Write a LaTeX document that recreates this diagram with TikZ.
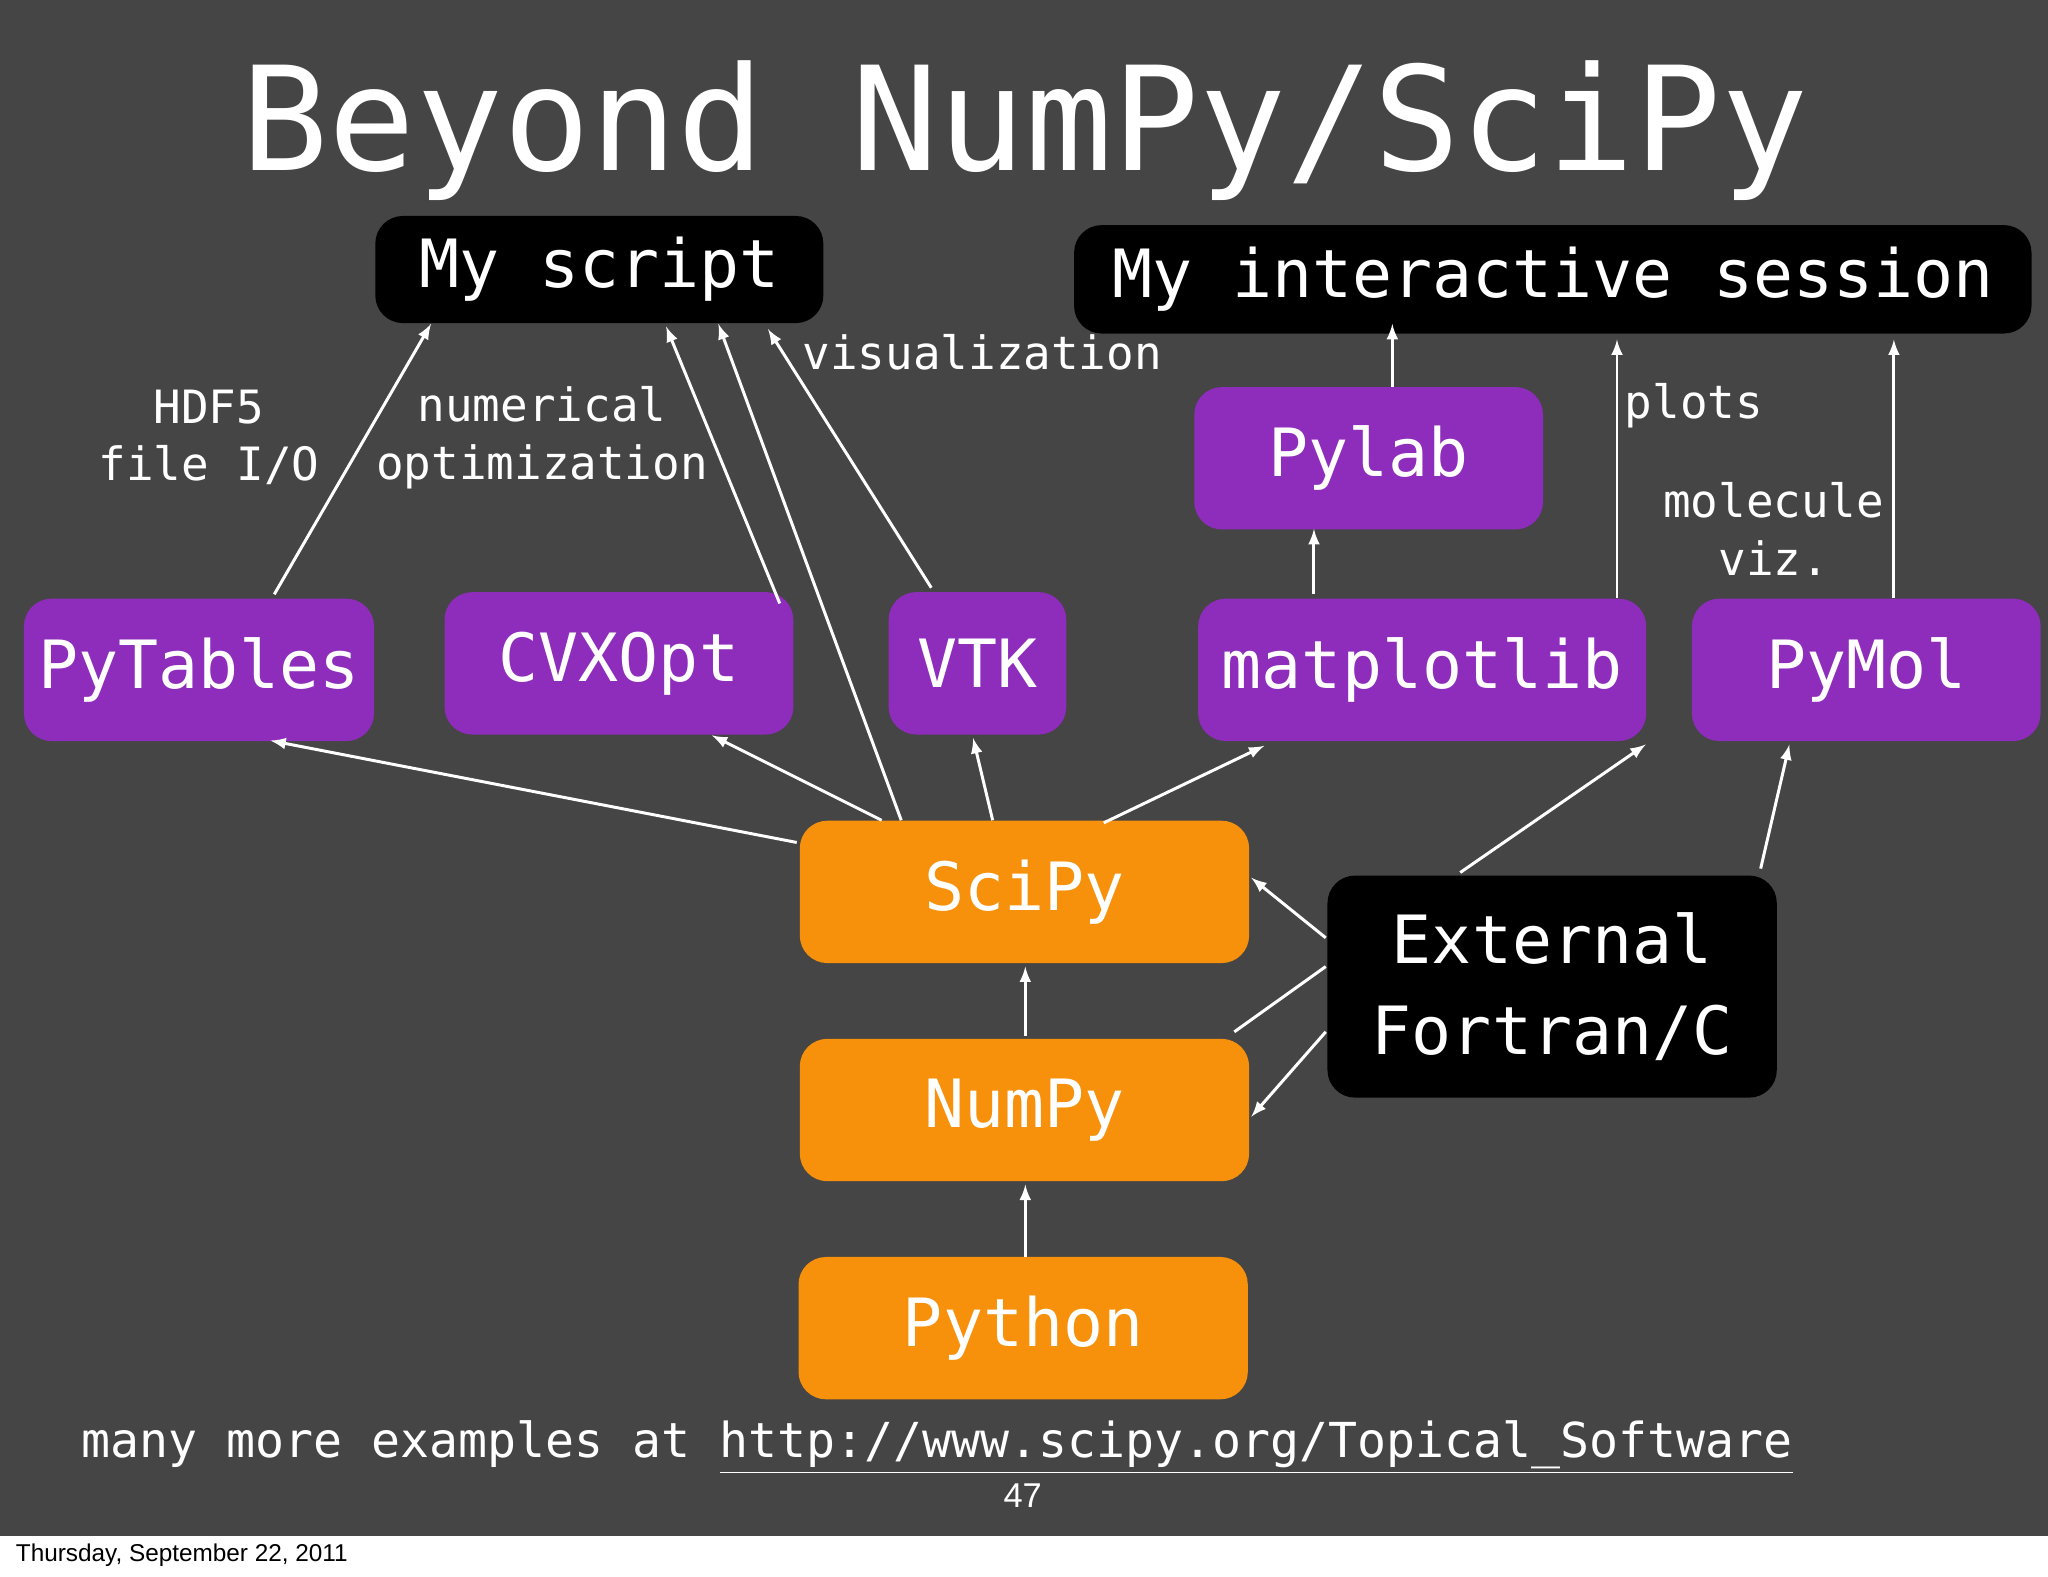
\documentclass[tikz,border=0pt]{standalone}
\usepackage{fontspec}
\setmainfont{DejaVu Sans Mono}
\newfontfamily\sansf{Liberation Sans}
\definecolor{pu}{HTML}{8E2CBC}
\definecolor{og}{HTML}{F7900A}
\begin{document}
\begin{tikzpicture}[x=0.02cm,y=-0.02cm,
  box/.style={rounded corners=12pt,text=white,font=\fontsize{29}{34}\selectfont,align=center,inner sep=0pt,anchor=north west},
  blk/.style={box,fill=black},
  pur/.style={box,fill=pu},
  org/.style={box,fill=og},
  arr/.style={draw=white,line width=1.3pt,-latex},
  lab/.style={text=white,font=\fontsize{20}{25}\selectfont,align=center}]
\useasboundingbox (0,0) rectangle (1568,1207);
\fill[white] (0,0) rectangle (1568,1207);
\fill[black!73] (0,0) rectangle (1568,1176);
\node[text=white,font=\fontsize{63}{70}\selectfont] (title) at (785,100) {Beyond NumPy/SciPy};
\node[blk,minimum width=343*0.02cm,minimum height=82*0.02cm] (ms) at (287,165) {My script};
\node[blk,minimum width=733*0.02cm,minimum height=83*0.02cm] (is) at (822,172) {My interactive session};
\node[pur,minimum width=267*0.02cm,minimum height=109*0.02cm] (pl) at (914,296) {Pylab};
\node[pur,minimum width=268*0.02cm,minimum height=109*0.02cm] (pt) at (18,458) {PyTables};
\node[pur,minimum width=267*0.02cm,minimum height=109*0.02cm] (cv) at (340,453) {CVXOpt};
\node[pur,minimum width=136*0.02cm,minimum height=109*0.02cm] (vtk) at (680,453) {VTK};
\node[pur,minimum width=343*0.02cm,minimum height=109*0.02cm] (mpl) at (917,458) {matplotlib};
\node[pur,minimum width=267*0.02cm,minimum height=109*0.02cm] (pm) at (1295,458) {PyMol};
\node[org,minimum width=344*0.02cm,minimum height=109*0.02cm] (sp) at (612,628) {SciPy};
\node[org,minimum width=344*0.02cm,minimum height=109*0.02cm] (np) at (612,795) {NumPy};
\node[org,minimum width=344*0.02cm,minimum height=109*0.02cm] (py) at (611,962) {Python};
\node[blk,minimum width=344*0.02cm,minimum height=170*0.02cm,font=\fontsize{29}{40}\selectfont] (ext) at (1016,670) {External\\Fortran/C};
\coordinate (a1) at (210,455); \coordinate (b1) at (330,248);
\coordinate (a2) at (597,462); \coordinate (b2) at (510,250);
\coordinate (a3) at (690,628); \coordinate (b3) at (550,248);
\coordinate (a4) at (713,450); \coordinate (b4) at (588,252);
\coordinate (a5) at (610,645); \coordinate (b5) at (207,567);
\coordinate (a6) at (675,628); \coordinate (b6) at (545,563);
\coordinate (a7) at (760,628); \coordinate (b7) at (745,565);
\coordinate (a8) at (845,630); \coordinate (b8) at (968,571);
\coordinate (a9) at (1006,455); \coordinate (b9) at (1006,405);
\coordinate (a10) at (1066,296); \coordinate (b10) at (1066,248);
\coordinate (a11) at (1238,458); \coordinate (b11) at (1238,260);
\coordinate (a12) at (1450,458); \coordinate (b12) at (1450,260);
\coordinate (a13) at (1118,668); \coordinate (b13) at (1260,570);
\coordinate (a14) at (1348,665); \coordinate (b14) at (1370,570);
\coordinate (a15) at (1015,718); \coordinate (b15) at (958,672);
\coordinate (a16) at (1015,740); \coordinate (b16) at (945,790);
\coordinate (a17) at (1015,790); \coordinate (b17) at (958,855);
\coordinate (a18) at (785,793); \coordinate (b18) at (785,740);
\coordinate (a19) at (785,962); \coordinate (b19) at (785,907);
\foreach \i in {1,...,15,17,18,19} \draw[arr] (a\i) -- (b\i);
\draw[white,line width=1.3pt] (a16) -- (b16);
\node[lab] (l1) at (160,335) {HDF5\\file I/O};
\node[lab] (l2) at (415,335) {numerical\\optimization};
\node[lab] (l3) at (752,270) {visualization};
\node[lab] (l4) at (1297,311) {plots};
\node[lab] (l5) at (1358,405) {molecule\\viz.};
\node[lab,anchor=west,font=\fontsize{21}{25}\selectfont] (l6) at (56,1108) {many more examples at \underline{http://www.scipy.org/Topical\_Software}};
\node[text=white,font=\sansf\fontsize{15}{18}\selectfont] (pg) at (783,1145) {47};
\node[anchor=west,font=\sansf\fontsize{10.6}{13}\selectfont] (dt) at (6,1191) {Thursday, September 22, 2011};
\end{tikzpicture}
\end{document}
